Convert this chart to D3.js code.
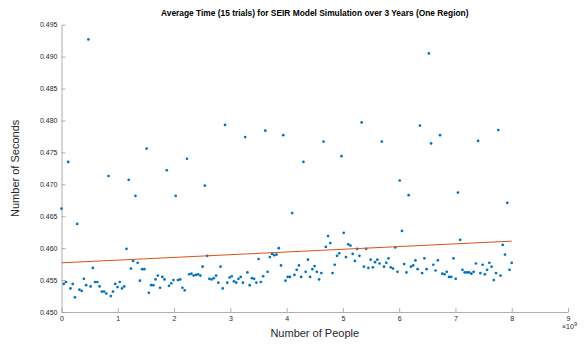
<!DOCTYPE html>
<html>
<head>
<meta charset="utf-8">
<script src="https://cdn.jsdelivr.net/npm/d3@7"></script>
<style>
  body { margin: 0; background: #fff; }
  svg { display: block; font-family: "Liberation Sans", Arial, sans-serif; }
</style>
</head>
<body>
<svg id="graphic" width="586" height="349"></svg>
<script>
// average run time (s), one dot per population size, 0 .. 8e9 people
const seconds = [
  0.4662, 0.4544, 0.4547, 0.4735, 0.4537, 0.4544, 0.4523, 0.4638, 0.4535, 0.4533,
  0.4552, 0.4542, 0.4927, 0.4540, 0.4569, 0.4547, 0.4547, 0.4540, 0.4532, 0.4532,
  0.4529, 0.4713, 0.4525, 0.4532, 0.4544, 0.4539, 0.4547, 0.4537, 0.4540, 0.4599,
  0.4707, 0.4568, 0.4580, 0.4682, 0.4577, 0.4549, 0.4567, 0.4567, 0.4756, 0.4530,
  0.4542, 0.4542, 0.4551, 0.4557, 0.4538, 0.4555, 0.4551, 0.4722, 0.4541, 0.4545,
  0.4550, 0.4682, 0.4550, 0.4551, 0.4538, 0.4534, 0.4740, 0.4559, 0.4560, 0.4557,
  0.4558, 0.4559, 0.4557, 0.4571, 0.4698, 0.4588, 0.4552, 0.4551, 0.4553, 0.4557,
  0.4546, 0.4571, 0.4537, 0.4793, 0.4546, 0.4554, 0.4556, 0.4548, 0.4546, 0.4552,
  0.4555, 0.4546, 0.4774, 0.4562, 0.4542, 0.4553, 0.4552, 0.4546, 0.4583, 0.4547,
  0.4556, 0.4784, 0.4563, 0.4586, 0.4591, 0.4589, 0.4590, 0.4600, 0.4573, 0.4777,
  0.4549, 0.4555, 0.4555, 0.4655, 0.4558, 0.4566, 0.4573, 0.4555, 0.4735, 0.4563,
  0.4582, 0.4555, 0.4567, 0.4572, 0.4563, 0.4551, 0.4561, 0.4767, 0.4602, 0.4619,
  0.4608, 0.4561, 0.4574, 0.4588, 0.4592, 0.4744, 0.4624, 0.4586, 0.4606, 0.4604,
  0.4591, 0.4580, 0.4599, 0.4588, 0.4797, 0.4571, 0.4599, 0.4569, 0.4582, 0.4570,
  0.4578, 0.4582, 0.4576, 0.4767, 0.4571, 0.4577, 0.4584, 0.4570, 0.4568, 0.4601,
  0.4563, 0.4706, 0.4627, 0.4575, 0.4562, 0.4683, 0.4571, 0.4573, 0.4581, 0.4567,
  0.4792, 0.4561, 0.4584, 0.4567, 0.4905, 0.4764, 0.4574, 0.4565, 0.4581, 0.4777,
  0.4560, 0.4559, 0.4563, 0.4555, 0.4555, 0.4584, 0.4552, 0.4687, 0.4613, 0.4566,
  0.4562, 0.4562, 0.4562, 0.4560, 0.4563, 0.4576, 0.4768, 0.4561, 0.4574, 0.4559,
  0.4566, 0.4577, 0.4571, 0.4550, 0.4561, 0.4785, 0.4557, 0.4605, 0.4590, 0.4671,
  0.4566, 0.4577
];
const peopleRange = [0, 8e9];

// linear fit, end points
const fitPeople = [0, 8e9];
const fitSeconds = [0.4577, 0.4611];

const xTicks = [0, 1, 2, 3, 4, 5, 6, 7, 8, 9];
const yTicks = [0.450, 0.455, 0.460, 0.465, 0.470, 0.475, 0.480, 0.485, 0.490, 0.495];

const titleText = 'Average Time (15 trials) for SEIR Model Simulation over 3 Years (One Region)';
const xLabel = 'Number of People';
const yLabel = 'Number of Seconds';

const plotLeft = 61.5, plotRight = 568, plotTop = 24.7, plotBottom = 312;

let svg = d3.select('#graphic');

let xScale = d3.scaleLinear().domain([0, 9e9]).range([plotLeft, plotRight]);
let yScale = d3.scaleLinear().domain([0.450, 0.495]).range([plotBottom, plotTop]);

let step = (peopleRange[1] - peopleRange[0]) / (seconds.length - 1);
let dta = seconds.map((s, i) => ({ people: peopleRange[0] + i * step, seconds: s }));

// axes, ticks pointing inward like matlab
let xAxis = d3.axisBottom(xScale)
    .tickValues(xTicks.map(d => d * 1e9))
    .tickFormat(d => d3.format('d')(d / 1e9))
    .tickSizeInner(-4).tickSizeOuter(0).tickPadding(4);

let yAxis = d3.axisLeft(yScale)
    .tickValues(yTicks)
    .tickFormat(d3.format('.3f'))
    .tickSizeInner(-4).tickSizeOuter(0).tickPadding(4);

let gx = svg.append('g')
    .attr('transform', `translate(0, ${plotBottom})`)
    .call(xAxis);

let gy = svg.append('g')
    .attr('transform', `translate(${plotLeft}, 0)`)
    .call(yAxis);

[gx, gy].forEach(g => {
    g.select('.domain').attr('stroke', '#9a9a9a').attr('stroke-width', 0.8);
    g.selectAll('.tick line').attr('stroke', '#9a9a9a').attr('stroke-width', 0.8);
    g.selectAll('.tick text')
        .attr('fill', '#262626')
        .style('font-size', '7px')
        .style('font-family', '"Liberation Sans", Arial, sans-serif');
});

// scatter
svg.selectAll('.data_point')
    .data(dta)
    .enter()
    .append('circle')
    .classed('data_point', true)
    .attr('cx', d => xScale(d.people))
    .attr('cy', d => yScale(d.seconds))
    .attr('r', 1.35)
    .attr('fill', '#0072BD');

// fit line
svg.append('path')
    .datum(fitPeople.map((p, i) => ({ people: p, seconds: fitSeconds[i] })))
    .attr('fill', 'none')
    .attr('stroke', '#D95319')
    .attr('stroke-width', 1)
    .attr('d', d3.line().x(d => xScale(d.people)).y(d => yScale(d.seconds)));

// texts
svg.append('text')
    .attr('x', (plotLeft + plotRight) / 2)
    .attr('y', 16)
    .attr('text-anchor', 'middle')
    .attr('font-weight', 'bold')
    .attr('font-size', 8.4)
    .attr('fill', '#000')
    .text(titleText);

svg.append('text')
    .attr('x', (plotLeft + plotRight) / 2)
    .attr('y', 337)
    .attr('text-anchor', 'middle')
    .attr('font-size', 11)
    .attr('fill', '#262626')
    .text(xLabel);

svg.append('text')
    .attr('transform', `translate(19, ${(plotTop + plotBottom) / 2}) rotate(-90)`)
    .attr('text-anchor', 'middle')
    .attr('font-size', 11)
    .attr('fill', '#262626')
    .text(yLabel);

let exp = svg.append('text')
    .attr('x', 562)
    .attr('y', 329)
    .attr('font-size', 7)
    .attr('fill', '#262626');
exp.append('tspan').text('\u00d710');
exp.append('tspan').attr('dy', -3).attr('font-size', 5.5).text('9');
</script>
</body>
</html>
